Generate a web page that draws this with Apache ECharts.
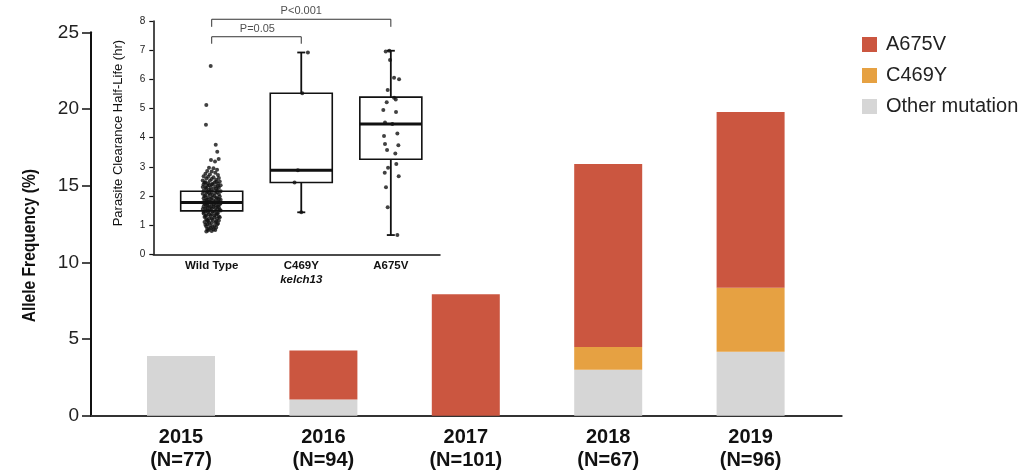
<!DOCTYPE html>
<html>
<head>
<meta charset="utf-8">
<title>kelch13 allele frequency</title>
<script src="https://cdn.jsdelivr.net/npm/echarts@6/dist/echarts.min.js"></script>
<style>
  html, body { margin: 0; padding: 0; background: #fff; }
  #chart { width: 1025px; height: 476px; }
</style>
</head>
<body>
<div id="chart"></div>
<script>
// ---- Main chart: allele frequency by year (%) ----
const years = ['2015', '2016', '2017', '2018', '2019'];
const sampleSizes = [77, 94, 101, 67, 96];
const otherMutation = [3.90, 1.06, 0, 2.99, 4.17];
const c469y = [0, 0, 0, 1.49, 4.17];
const a675v = [0, 3.19, 7.92, 11.94, 11.46];

// ---- Inset: parasite clearance half-life (hr) ----
const groupNames = ['Wild Type', 'C469Y', 'A675V'];
const groupPositions = [1, 2, 3];
// [position, min, Q1, median, Q3, max]
const boxStats = [
  [1, 1.49, 1.49, 1.78, 2.16, 2.16],
  [2, 1.44, 2.46, 2.88, 5.52, 6.92],
  [3, 0.66, 3.26, 4.47, 5.39, 6.98]
];
// individual patients: [horizontal jitter, half-life]
const wildTypePoints = [
  [-0.011, 6.46], [-0.060, 5.12], [-0.064, 4.44], [0.045, 3.76], [0.062, 3.52], [0.078, 3.27], [-0.008, 3.23], [0.037, 3.18],
  [-0.03, 2.97], [0.02, 2.95], [0.06, 2.90], [-0.05, 2.86], [0.0, 2.84], [0.04, 2.80], [-0.07, 2.76], [-0.02, 2.74], [0.07, 2.72],
  [-0.09, 2.68], [-0.04, 2.66], [0.02, 2.64], [0.08, 2.62], [-0.06, 2.60], [0.0, 2.58], [0.05, 2.56], [-0.10, 2.53], [-0.02, 2.52], [0.09, 2.50],
  [-0.07, 2.47], [0.03, 2.46], [-0.04, 2.44], [0.07, 2.42], [-0.09, 2.40], [0.0, 2.39], [0.10, 2.37], [-0.05, 2.35], [0.04, 2.33],
  [-0.10, 2.31], [-0.01, 2.30], [0.08, 2.28], [-0.06, 2.26], [0.02, 2.24], [-0.03, 2.21], [0.06, 2.20], [-0.09, 2.18], [0.10, 2.16],
  [0.0, 2.14], [-0.06, 2.12], [0.04, 2.10], [-0.10, 2.08], [0.08, 2.06], [-0.02, 2.05], [-0.07, 2.02], [0.03, 2.00], [0.09, 1.98],
  [-0.04, 1.96], [0.0, 1.94], [-0.09, 1.92], [0.06, 1.91], [-0.05, 1.88], [0.10, 1.87], [0.02, 1.85], [-0.08, 1.83], [-0.02, 1.82],
  [0.07, 1.80], [-0.10, 1.78], [0.04, 1.77], [-0.05, 1.75], [0.0, 1.73], [0.09, 1.72], [-0.07, 1.70], [0.05, 1.68], [-0.03, 1.66],
  [-0.09, 1.64], [0.02, 1.63], [0.08, 1.61], [-0.05, 1.59], [0.0, 1.57], [-0.10, 1.55], [0.06, 1.54], [-0.02, 1.52], [0.10, 1.50],
  [-0.07, 1.48], [0.03, 1.46], [-0.04, 1.44], [0.07, 1.42], [-0.09, 1.40], [0.0, 1.38], [0.05, 1.36], [-0.06, 1.34], [-0.01, 1.32],
  [0.08, 1.30], [-0.08, 1.28], [0.03, 1.26], [-0.03, 1.24], [0.06, 1.22], [-0.06, 1.20], [0.01, 1.18], [0.08, 1.16], [-0.04, 1.14],
  [-0.08, 1.11], [0.04, 1.10], [0.0, 1.07], [-0.05, 1.04], [0.06, 1.02], [-0.02, 1.00], [0.03, 0.97], [-0.06, 0.95], [0.05, 0.92],
  [-0.01, 0.90], [-0.05, 0.87], [0.02, 0.85], [-0.04, 0.82], [0.0, 0.80], [-0.06, 0.78],
  [0.05, 2.49], [-0.08, 2.45], [0.01, 2.41], [-0.03, 2.37], [0.07, 2.34], [-0.07, 2.29], [0.05, 2.25], [-0.01, 2.19], [-0.05, 2.15],
  [0.06, 2.13], [-0.03, 2.09], [0.01, 2.03], [-0.08, 1.99], [0.05, 1.95], [-0.01, 1.90], [0.08, 1.89], [-0.06, 1.86], [0.04, 1.82],
  [-0.03, 1.79], [0.10, 1.76], [-0.08, 1.74], [0.02, 1.70], [-0.05, 1.67], [0.07, 1.65], [-0.01, 1.62], [0.04, 1.58], [-0.07, 1.56],
  [0.09, 1.53], [-0.04, 1.50], [0.01, 1.47], [-0.09, 1.45], [0.06, 1.40], [-0.03, 1.37], [0.03, 1.33], [-0.07, 1.31], [0.09, 1.27],
  [0.0, 1.22], [-0.05, 1.17], [0.05, 1.13], [-0.03, 1.09], [0.07, 1.06], [-0.07, 1.01], [0.01, 0.94], [-0.03, 0.88], [0.04, 0.83]
];
const c469yPoints = [[0.074, 6.92], [0.011, 5.52], [-0.038, 2.88], [-0.075, 2.46], [0.0, 1.44]];
const a675vPoints = [
  [-0.057, 6.95], [-0.017, 6.98], [-0.009, 6.66], [0.036, 6.05], [0.092, 6.00], [-0.035, 5.63], [0.036, 5.37], [0.055, 5.31],
  [-0.046, 5.21], [-0.084, 4.95], [0.058, 4.88], [-0.065, 4.52], [0.017, 4.47], [0.073, 4.14], [-0.076, 4.06], [-0.065, 3.78],
  [0.084, 3.74], [-0.042, 3.58], [0.050, 3.46], [0.061, 3.10], [-0.031, 2.97], [-0.068, 2.80], [0.088, 2.68], [-0.054, 2.30],
  [-0.035, 1.61], [0.073, 0.66]
];
// significance brackets: [from group, to group, bar level, tick foot, text]
const brackets = [
  [1, 3, 8.06, 7.80, 'P<0.001'],
  [1, 2, 7.46, 7.22, 'P=0.05']
];

const SANS = '"Liberation Sans", Arial, sans-serif';
const INK = '#111';

const pointsByGroup = [wildTypePoints, c469yPoints, a675vPoints];
const scatterData = [];
pointsByGroup.forEach((pts, g) => {
  pts.forEach(([dx, v]) => scatterData.push([groupPositions[g] + dx, v]));
});

function renderBox(params, api) {
  const x = api.value(0);
  const lo = api.coord([x, api.value(1)]);
  const q1 = api.coord([x, api.value(2)]);
  const md = api.coord([x, api.value(3)]);
  const q3 = api.coord([x, api.value(4)]);
  const hi = api.coord([x, api.value(5)]);
  const half = 31, cap = 4, cx = q1[0];
  const seg = (x1, y1, x2, y2, w) => ({
    type: 'line', shape: { x1, y1, x2, y2 }, style: { stroke: INK, lineWidth: w }
  });
  const kids = [];
  if (hi[1] < q3[1] - 0.5) {
    kids.push(seg(cx, q3[1], cx, hi[1], 1.8), seg(cx - cap, hi[1], cx + cap, hi[1], 1.8));
  }
  if (lo[1] > q1[1] + 0.5) {
    kids.push(seg(cx, q1[1], cx, lo[1], 1.8), seg(cx - cap, lo[1], cx + cap, lo[1], 1.8));
  }
  kids.push({
    type: 'rect',
    shape: { x: cx - half, y: q3[1], width: half * 2, height: q1[1] - q3[1] },
    style: { fill: '#fff', stroke: INK, lineWidth: 1.6 }
  });
  kids.push(seg(cx - half, md[1], cx + half, md[1], 3));
  return { type: 'group', children: kids };
}

const bracketSeries = brackets.map(([a, b, top, foot]) => ({
  type: 'line',
  xAxisIndex: 2, yAxisIndex: 2,
  data: [[a, foot], [a, top], [b, top], [b, foot]],
  symbol: 'none',
  clip: false,
  silent: true,
  lineStyle: { color: '#333', width: 1 },
  z: 5
}));

const bracketLabels = {
  type: 'scatter',
  xAxisIndex: 2, yAxisIndex: 2,
  symbolSize: 0,
  clip: false,
  silent: true,
  data: [
    [(brackets[0][0] + brackets[0][1]) / 2, 8.35, brackets[0][4]],
    [1.51, 7.71, brackets[1][4]]
  ],
  label: {
    show: true, position: 'inside',
    formatter: p => p.data[2],
    color: '#222', fontSize: 11, fontFamily: SANS
  },
  z: 5
};

const chart = echarts.init(document.getElementById('chart'), null, { renderer: 'canvas' });

const option = {
  backgroundColor: '#fff',
  animation: false,
  // condensed axis title for the frequency axis
  graphic: [{
    type: 'text',
    x: 30, y: 245.7,
    rotation: Math.PI / 2,
    scaleX: 0.82,
    style: {
      text: 'Allele Frequency (%)',
      fill: INK,
      font: 'bold 19px "Liberation Sans", Arial, sans-serif',
      textAlign: 'center',
      textVerticalAlign: 'middle'
    }
  }],
  legend: {
    orient: 'vertical',
    left: 857, top: 29.5,
    itemWidth: 15, itemHeight: 15, itemGap: 11,
    icon: 'rect',
    data: ['A675V', 'C469Y', 'Other mutation'],
    textStyle: { fontSize: 20, color: '#222', fontFamily: SANS, padding: [0, 0, 0, 4] }
  },
  grid: [
    // bars
    { left: 109.8, right: 203.2, top: 32.3, bottom: 60.3 },
    // main axis frame
    { left: 91, right: 183.3, top: 32.3, bottom: 60.3 },
    // inset
    { left: 153.3, top: 21, width: 286.7, height: 233.3 }
  ],
  xAxis: [
    {
      gridIndex: 0, type: 'category', data: years,
      axisLine: { show: false }, axisTick: { show: false },
      axisLabel: {
        margin: 10, color: INK, fontSize: 20, fontWeight: 'bold', fontFamily: SANS, lineHeight: 23.5,
        formatter: (v, i) => v + '\n(N=' + sampleSizes[i] + ')'
      }
    },
    {
      gridIndex: 1, type: 'value', min: 0, max: 1,
      axisLine: { show: true, lineStyle: { color: '#333', width: 2 } },
      axisTick: { show: false }, axisLabel: { show: false }, splitLine: { show: false }
    },
    {
      gridIndex: 2, type: 'value', min: 0.348, max: 3.549,
      axisLine: { show: true, lineStyle: { color: INK, width: 1.5 } },
      axisTick: { show: false }, splitLine: { show: false },
      axisLabel: {
        customValues: groupPositions,
        margin: 5,
        formatter: v => {
          const name = groupNames[groupPositions.indexOf(v)];
          return name === 'C469Y' ? '{b|C469Y}\n{i|kelch13}' : '{b|' + name + '}';
        },
        rich: {
          b: { fontSize: 11.5, fontWeight: 'bold', color: INK, fontFamily: SANS, lineHeight: 14 },
          i: { fontSize: 11.5, fontWeight: 'bold', fontStyle: 'italic', color: INK, fontFamily: SANS, lineHeight: 14 }
        }
      }
    }
  ],
  yAxis: [
    { gridIndex: 0, type: 'value', min: 0, max: 25, show: false },
    {
      gridIndex: 1, type: 'value', min: 0, max: 25, interval: 5,
      axisLine: { show: true, lineStyle: { color: INK, width: 2 } },
      axisTick: { show: true, length: 9, lineStyle: { color: INK, width: 1.5 } },
      axisLabel: { margin: 12, fontSize: 19, color: '#222', fontFamily: SANS },
      splitLine: { show: false }
    },
    {
      gridIndex: 2, type: 'value', min: 0, max: 8, interval: 1,
      name: 'Parasite Clearance Half-Life (hr)', nameLocation: 'middle', nameGap: 28,
      nameTextStyle: { fontSize: 13, color: INK, fontFamily: SANS, padding: [0, 0, 0, 9] },
      axisLine: { show: true, lineStyle: { color: INK, width: 1.5 } },
      axisTick: { show: true, length: 4, lineStyle: { color: INK, width: 1.2 } },
      axisLabel: { margin: 8, fontSize: 10, color: '#222', fontFamily: SANS },
      splitLine: { show: false }
    }
  ],
  series: [
    {
      name: 'Other mutation', type: 'bar', stack: 'freq', barWidth: 68,
      xAxisIndex: 0, yAxisIndex: 0, data: otherMutation,
      itemStyle: { color: '#D6D6D6' }
    },
    {
      name: 'C469Y', type: 'bar', stack: 'freq', barWidth: 68,
      xAxisIndex: 0, yAxisIndex: 0, data: c469y,
      itemStyle: { color: '#E6A142' }
    },
    {
      name: 'A675V', type: 'bar', stack: 'freq', barWidth: 68,
      xAxisIndex: 0, yAxisIndex: 0, data: a675v,
      itemStyle: { color: '#CB5640' }
    },
    {
      type: 'custom', xAxisIndex: 2, yAxisIndex: 2,
      renderItem: renderBox,
      encode: { x: 0, y: [1, 2, 3, 4, 5] },
      data: boxStats, silent: true, z: 3
    },
    {
      type: 'scatter', xAxisIndex: 2, yAxisIndex: 2,
      data: scatterData, symbolSize: 4,
      itemStyle: { color: INK }, silent: true, z: 4
    },
    ...bracketSeries,
    bracketLabels
  ]
};

chart.setOption(option);
</script>
</body>
</html>
